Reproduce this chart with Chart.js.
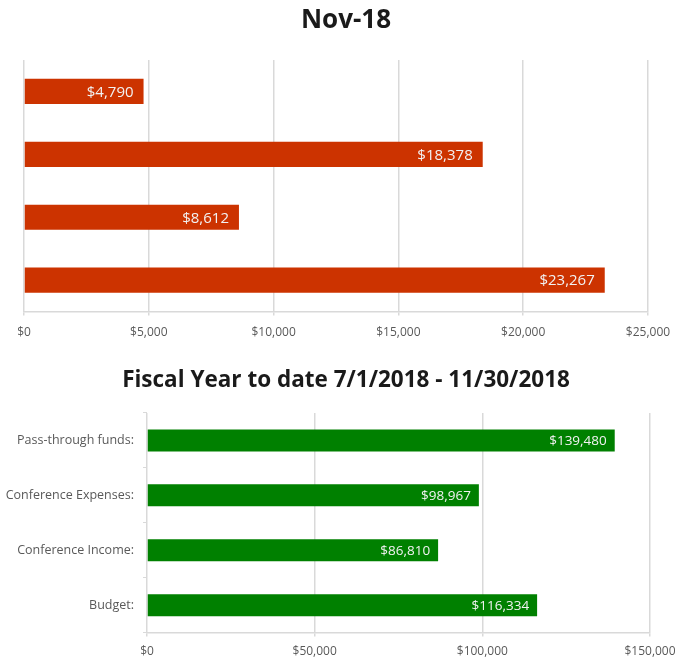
<!DOCTYPE html>
<html>
<head>
<meta charset="utf-8">
<script src="https://cdn.jsdelivr.net/npm/chart.js@4.4.1/dist/chart.umd.min.js"></script>
<style>
  body { margin: 0; background: #fff; overflow: hidden; }
  .box { position: absolute; left: 0; width: 678px; }
  #top { top: 0; height: 350px; }
  #bottom { top: 355px; height: 315px; }
</style>
</head>
<body>
<div class="box" id="top"><canvas id="monthChart"></canvas></div>
<div class="box" id="bottom"><canvas id="fyChart"></canvas></div>
<script>
var categories = ["Pass-through funds:", "Conference Expenses:", "Conference Income:", "Budget:"];
var monthValues = [4790, 18378, 8612, 23267];
var fyValues = [139480, 98967, 86810, 116334];
var monthTicks = [0, 5000, 10000, 15000, 20000, 25000];
var fyTicks = [0, 50000, 100000, 150000];

Chart.defaults.font.family = "'Open Sans', sans-serif";
Chart.defaults.color = "#595959";

function money(v) {
  return "$" + Number(v).toLocaleString("en-US");
}

// values inside the end of each bar, plus the chart heading
var barLabels = {
  id: "barLabels",
  afterDatasetsDraw: function (chart, args, opts) {
    var ctx = chart.ctx;
    var meta = chart.getDatasetMeta(0);
    var data = chart.data.datasets[0].data;
    ctx.save();
    ctx.font = opts.size + "px 'Open Sans', sans-serif";
    ctx.fillStyle = "#f2f2f2";
    ctx.textAlign = "right";
    ctx.textBaseline = "middle";
    meta.data.forEach(function (bar, i) {
      ctx.fillText(money(data[i]), bar.x - opts.gap, bar.y + 1);
    });
    ctx.font = "bold " + opts.titleSize + "px 'Open Sans', sans-serif";
    ctx.fillStyle = "#1a1a1a";
    ctx.textAlign = "center";
    ctx.fillText(opts.title, 346, opts.titleY);
    ctx.restore();
  }
};

function makeChart(id, labels, values, ticks, color, opts) {
  return new Chart(document.getElementById(id).getContext("2d"), {
    type: "bar",
    data: {
      labels: labels,
      datasets: [{
        data: values,
        backgroundColor: color,
        borderWidth: 0,
        barPercentage: 0.4,
        categoryPercentage: 1
      }]
    },
    options: {
      indexAxis: "y",
      responsive: true,
      maintainAspectRatio: false,
      animation: false,
      layout: { padding: opts.pad },
      plugins: {
        legend: { display: false },
        tooltip: { enabled: false },
        title: { display: false },
        barLabels: opts.labels
      },
      scales: {
        x: {
          min: ticks[0],
          max: ticks[ticks.length - 1],
          afterBuildTicks: function (axis) {
            axis.ticks = ticks.map(function (v) { return { value: v }; });
          },
          afterFit: function (axis) { axis.paddingRight = opts.rightRoom; },
          grid: { color: "#d9d9d9", lineWidth: 1.5, tickLength: 4 },
          border: { color: "#d9d9d9", width: 1.5 },
          ticks: {
            font: { size: 12 },
            padding: opts.tickPad,
            callback: function (v) { return money(v); }
          }
        },
        y: {
          afterFit: function (axis) { axis.width = opts.yWidth; },
          grid: {
            display: opts.showLabels,
            drawOnChartArea: false,
            offset: true,
            tickLength: 4,
            color: "#d9d9d9"
          },
          border: { display: false },
          ticks: { display: opts.showLabels, font: { size: 12.5 }, padding: 9 }
        }
      }
    },
    plugins: [barLabels]
  });
}

makeChart("monthChart", ["", "", "", ""], monthValues, monthTicks, "#cc3300", {
  pad: { left: 24, right: 0, top: 60, bottom: 0 },
  rightRoom: 30,
  yWidth: 0,
  showLabels: false,
  tickPad: 10,
  labels: { size: 15, gap: 10, title: "Nov-18", titleSize: 26, titleY: 21 }
});
makeChart("fyChart", categories, fyValues, fyTicks, "#008000", {
  pad: { left: 4, right: 0, top: 58, bottom: 3 },
  rightRoom: 28,
  yWidth: 143,
  showLabels: true,
  tickPad: 8,
  labels: { size: 13.5, gap: 8, title: "Fiscal Year to date 7/1/2018 - 11/30/2018", titleSize: 22.5, titleY: 26 }
});
</script>
</body>
</html>
